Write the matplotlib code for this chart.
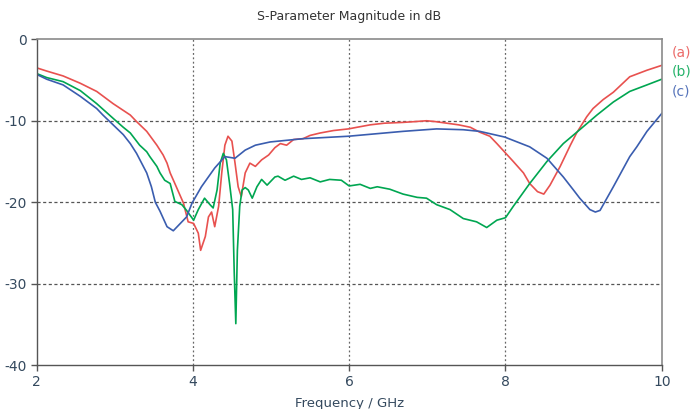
import matplotlib.pyplot as plt

# Curve (a) - red
freq_a = [2.0, 2.13, 2.34, 2.56, 2.77, 2.98, 3.2, 3.28, 3.41, 3.54, 3.62, 3.67, 3.71, 3.77,
          3.88, 3.94, 4.01, 4.07, 4.1, 4.16, 4.2, 4.24, 4.28, 4.33, 4.37, 4.41, 4.45, 4.5,
          4.54, 4.58, 4.62, 4.67, 4.73, 4.8, 4.88, 4.97, 5.05, 5.12, 5.2, 5.29, 5.41, 5.5,
          5.63, 5.8, 5.99, 6.1, 6.27, 6.45, 6.69, 6.85, 6.99, 7.1, 7.25, 7.4, 7.55, 7.67,
          7.8, 7.89, 8.1, 8.23, 8.31, 8.41, 8.49, 8.57, 8.7, 8.83, 8.91, 9.04, 9.12, 9.25,
          9.38, 9.59, 9.81, 10.0]
db_a = [-3.5, -3.9, -4.5, -5.4, -6.4, -7.9, -9.3, -10.1, -11.3, -13.0, -14.2, -15.2, -16.4, -17.7,
        -20.1, -22.4, -22.6, -23.8, -25.9, -24.2, -21.8, -21.2, -23.0, -20.5, -16.4, -13.0, -11.9, -12.5,
        -15.2, -18.1, -19.3, -16.4, -15.2, -15.6, -14.8, -14.2, -13.3, -12.8, -13.0, -12.3, -12.2, -11.8,
        -11.5, -11.2, -11.0, -10.8, -10.5, -10.3, -10.2, -10.1, -10.0, -10.1, -10.3, -10.5, -10.8, -11.4,
        -11.9, -12.8, -15.0, -16.4, -17.7, -18.7, -19.0, -17.9, -15.6, -13.0, -11.5, -9.5, -8.5, -7.4,
        -6.5, -4.6, -3.8, -3.2]

# Curve (b) - green
freq_b = [2.0, 2.13, 2.34, 2.56, 2.77, 2.98, 3.11, 3.2, 3.32, 3.41, 3.45, 3.54, 3.58, 3.64,
          3.71, 3.77, 3.86, 3.92, 4.01, 4.07, 4.15, 4.22, 4.26, 4.31, 4.35, 4.39, 4.43, 4.47,
          4.51, 4.53, 4.55, 4.57, 4.6, 4.63, 4.67, 4.71, 4.76, 4.82, 4.88, 4.95, 5.05, 5.09,
          5.18, 5.29, 5.39, 5.5, 5.63, 5.75, 5.9, 6.0, 6.14, 6.27, 6.36, 6.52, 6.69, 6.87,
          6.99, 7.12, 7.29, 7.46, 7.63, 7.76, 7.89, 8.0, 8.1, 8.31, 8.53, 8.74, 8.95, 9.17,
          9.38, 9.59, 9.81, 10.0]
db_b = [-4.2, -4.7, -5.2, -6.3, -7.9, -9.7, -10.8, -11.5, -13.0, -13.8, -14.4, -15.6, -16.4, -17.3,
        -17.7, -19.9, -20.3, -21.0, -22.2, -20.9, -19.5, -20.3, -20.7, -18.5, -15.2, -14.0, -14.8, -17.7,
        -20.9, -28.7, -34.9, -25.9, -20.5, -18.5, -18.2, -18.5, -19.5, -18.1, -17.2, -17.9, -16.9, -16.8,
        -17.3, -16.8, -17.2, -17.0, -17.5, -17.2, -17.3, -18.0, -17.8, -18.3, -18.1, -18.4, -19.0, -19.4,
        -19.5, -20.3, -20.9, -22.0, -22.4, -23.1, -22.2, -21.9, -20.5, -17.7, -15.0, -12.8, -11.1, -9.3,
        -7.7, -6.4, -5.6, -4.9]

# Curve (c) - blue
freq_c = [2.0, 2.13, 2.34, 2.56, 2.77, 2.85, 2.98, 3.11, 3.2, 3.28, 3.41, 3.47, 3.52, 3.58,
          3.67, 3.75, 3.84, 3.92, 3.99, 4.11, 4.28, 4.41, 4.54, 4.67, 4.8, 4.99, 5.41, 5.99,
          6.69, 7.12, 7.46, 7.67, 7.99, 8.31, 8.53, 8.74, 8.87, 8.95, 9.08, 9.15, 9.21, 9.38,
          9.59, 9.68, 9.81, 10.0]
db_c = [-4.3, -4.9, -5.6, -7.0, -8.5, -9.3, -10.5, -11.7, -12.8, -14.0, -16.4, -18.1, -20.0, -21.1,
        -23.0, -23.5, -22.6, -21.8, -20.1, -18.1, -15.8, -14.4, -14.6, -13.6, -13.0, -12.6, -12.2, -11.9,
        -11.3, -11.0, -11.1, -11.3, -12.0, -13.2, -14.6, -16.9, -18.5, -19.5, -20.9, -21.2, -21.0, -18.1,
        -14.4, -13.2, -11.3, -9.1]

labels = ["(a)", "(b)", "(c)"]
colors = ["#e8514f", "#00a651", "#3a5daf"]
x_ticks = [2, 4, 6, 8, 10]
y_ticks = [0, -10, -20, -30, -40]


def main():
    fig = plt.figure(figsize=(6.94, 4.09), dpi=100)
    ax = fig.add_axes([0.0526, 0.107, 0.901, 0.797])

    series = [(freq_a, db_a), (freq_b, db_b), (freq_c, db_c)]
    for (f, d), c in zip(series, colors):
        ax.plot(f, d, color=c, lw=1.2, solid_joinstyle="round")

    ax.set_xlim(2, 10)
    ax.set_ylim(-40, 0)
    ax.set_xticks(x_ticks)
    ax.set_yticks(y_ticks)
    ax.set_yticklabels([str(v) for v in y_ticks])

    # grid: dotted verticals, dashed horizontals
    ax.grid(False)
    for x in x_ticks[1:-1]:
        ax.axvline(x, color="#666666", lw=0.9, ls=(0, (1.5, 2)), zorder=0)
    for y in y_ticks[1:-1]:
        ax.axhline(y, color="#555555", lw=0.9, ls=(0, (2.5, 2)), zorder=0)

    for side in ["left", "bottom"]:
        ax.spines[side].set_color("#555555")
        ax.spines[side].set_linewidth(1.0)
    for side in ["top", "right"]:
        ax.spines[side].set_color("#8a8a8a")
        ax.spines[side].set_linewidth(1.2)

    text_col = "#34495e"
    ax.tick_params(direction="out", length=4, width=1, color="#555555",
                   labelsize=10, labelcolor=text_col, pad=3)

    ax.set_title("S-Parameter Magnitude in dB", fontsize=9, color="#333333", pad=14)
    ax.set_xlabel("Frequency / GHz", fontsize=9.5, color=text_col, labelpad=6)

    # key on the right
    for i, (lab, c) in enumerate(zip(labels, colors)):
        fig.text(0.968, 0.872 - i * 0.048, lab, color=c, fontsize=10, alpha=0.85,
                 ha="left", va="center")

    fig.savefig("out.png", dpi=100)


if __name__ == "__main__":
    main()
